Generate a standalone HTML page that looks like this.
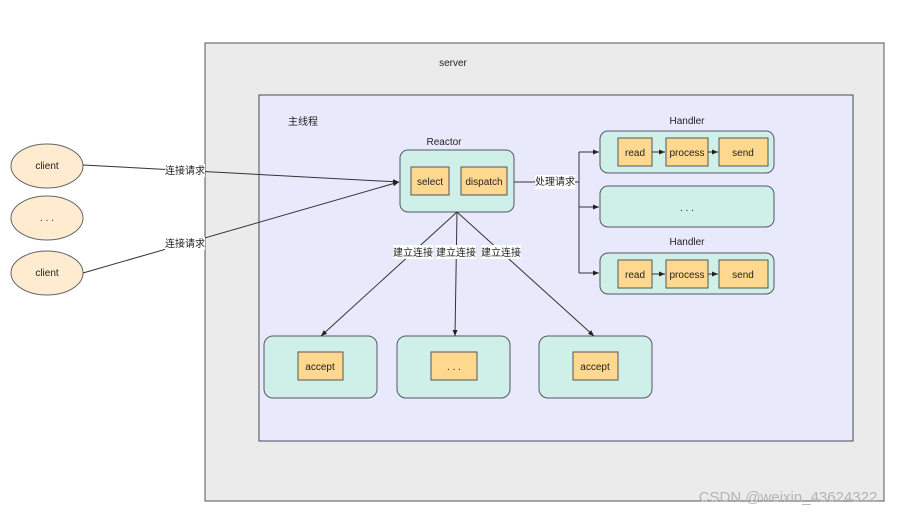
<!DOCTYPE html>
<html><head><meta charset="utf-8"><style>
body{margin:0;background:#fff;width:900px;height:513px;overflow:hidden}
text{font-family:"Liberation Sans","Noto Sans CJK SC",sans-serif;font-size:10px;fill:#222}
</style></head><body>
<svg width="900" height="513" viewBox="0 0 900 513" xmlns="http://www.w3.org/2000/svg">
<defs><marker id="a" markerWidth="8" markerHeight="8" refX="7" refY="4" orient="auto" markerUnits="userSpaceOnUse"><path d="M1,1.5 L7,4 L1,6.5 z" fill="#222"/></marker></defs>
<rect x="205" y="43" width="679" height="458" fill="#ebebeb" stroke="#555"/>
<text x="453" y="66" text-anchor="middle">server</text>
<rect x="259" y="95" width="594" height="346" fill="#e8eafc" stroke="#4a4a5a"/>
<text x="303" y="125" text-anchor="middle">主线程</text>
<text x="444" y="145" text-anchor="middle">Reactor</text>
<g stroke="#556" fill="#cff0e8">
<rect x="400" y="150" width="114" height="62" rx="8"/>
<rect x="600" y="131" width="174" height="42" rx="8"/>
<rect x="600" y="186" width="174" height="41" rx="8"/>
<rect x="600" y="253" width="174" height="41" rx="8"/>
<rect x="264" y="336" width="113" height="62" rx="9"/>
<rect x="397" y="336" width="113" height="62" rx="9"/>
<rect x="539" y="336" width="113" height="62" rx="9"/>
</g>
<g stroke="#555" fill="#ffd88f">
<rect x="411" y="167" width="38" height="28"/>
<rect x="461" y="167" width="46" height="28"/>
<rect x="618" y="138" width="34" height="28"/><rect x="666" y="138" width="42" height="28"/><rect x="719" y="138" width="49" height="28"/>
<rect x="618" y="260" width="34" height="28"/><rect x="666" y="260" width="42" height="28"/><rect x="719" y="260" width="49" height="28"/>
<rect x="298" y="352" width="45" height="28"/><rect x="431" y="352" width="46" height="28"/><rect x="573" y="352" width="45" height="28"/>
</g>
<g fill="#ffecd0" stroke="#666">
<ellipse cx="47" cy="166" rx="36" ry="22"/><ellipse cx="47" cy="218" rx="36" ry="22"/><ellipse cx="47" cy="273" rx="36" ry="22"/>
</g>
<g stroke="#333" fill="none" stroke-width="1">
<line x1="83" y1="165" x2="399" y2="182" marker-end="url(#a)"/>
<line x1="83" y1="273" x2="399" y2="182" marker-end="url(#a)"/>
<path d="M514 182 H579 M579 152 V273"/>
<line x1="579" y1="152" x2="599" y2="152" marker-end="url(#a)"/>
<line x1="579" y1="207" x2="599" y2="207" marker-end="url(#a)"/>
<line x1="579" y1="273" x2="599" y2="273" marker-end="url(#a)"/>
<line x1="652" y1="152" x2="665" y2="152" marker-end="url(#a)"/><line x1="708" y1="152" x2="718" y2="152" marker-end="url(#a)"/>
<line x1="652" y1="274" x2="665" y2="274" marker-end="url(#a)"/><line x1="708" y1="274" x2="718" y2="274" marker-end="url(#a)"/>
<line x1="457" y1="212" x2="321" y2="336" marker-end="url(#a)"/>
<line x1="457" y1="212" x2="455" y2="336" marker-end="url(#a)"/>
<line x1="457" y1="212" x2="594" y2="336" marker-end="url(#a)"/>
</g>
<g fill="#fff"><rect x="165" y="164" width="40" height="13"/><rect x="165" y="237" width="40" height="13"/><rect x="535" y="175" width="40" height="14"/>
<rect x="393" y="245" width="40" height="14"/><rect x="436" y="245" width="40" height="14"/><rect x="481" y="245" width="40" height="14"/></g>
<text x="185" y="174" text-anchor="middle">连接请求</text>
<text x="185" y="247" text-anchor="middle">连接请求</text>
<text x="555" y="185" text-anchor="middle">处理请求</text>
<text x="413" y="256" text-anchor="middle">建立连接</text>
<text x="456" y="256" text-anchor="middle">建立连接</text>
<text x="501" y="256" text-anchor="middle">建立连接</text>
<text x="47" y="169" text-anchor="middle">client</text>
<text x="47" y="221" text-anchor="middle">. . .</text>
<text x="47" y="276" text-anchor="middle">client</text>
<text x="430" y="185" text-anchor="middle">select</text>
<text x="484" y="185" text-anchor="middle">dispatch</text>
<text x="687" y="124" text-anchor="middle">Handler</text>
<text x="687" y="245" text-anchor="middle">Handler</text>
<text x="635" y="156" text-anchor="middle">read</text><text x="687" y="156" text-anchor="middle">process</text><text x="743" y="156" text-anchor="middle">send</text>
<text x="635" y="278" text-anchor="middle">read</text><text x="687" y="278" text-anchor="middle">process</text><text x="743" y="278" text-anchor="middle">send</text>
<text x="687" y="211" text-anchor="middle">. . .</text>
<text x="320" y="370" text-anchor="middle">accept</text>
<text x="454" y="370" text-anchor="middle">. . .</text>
<text x="595" y="370" text-anchor="middle">accept</text>
<text x="788" y="502" text-anchor="middle" style="font-size:15px;fill:#b4b4b4">CSDN @weixin_43624322</text>
</svg>
</body></html>
